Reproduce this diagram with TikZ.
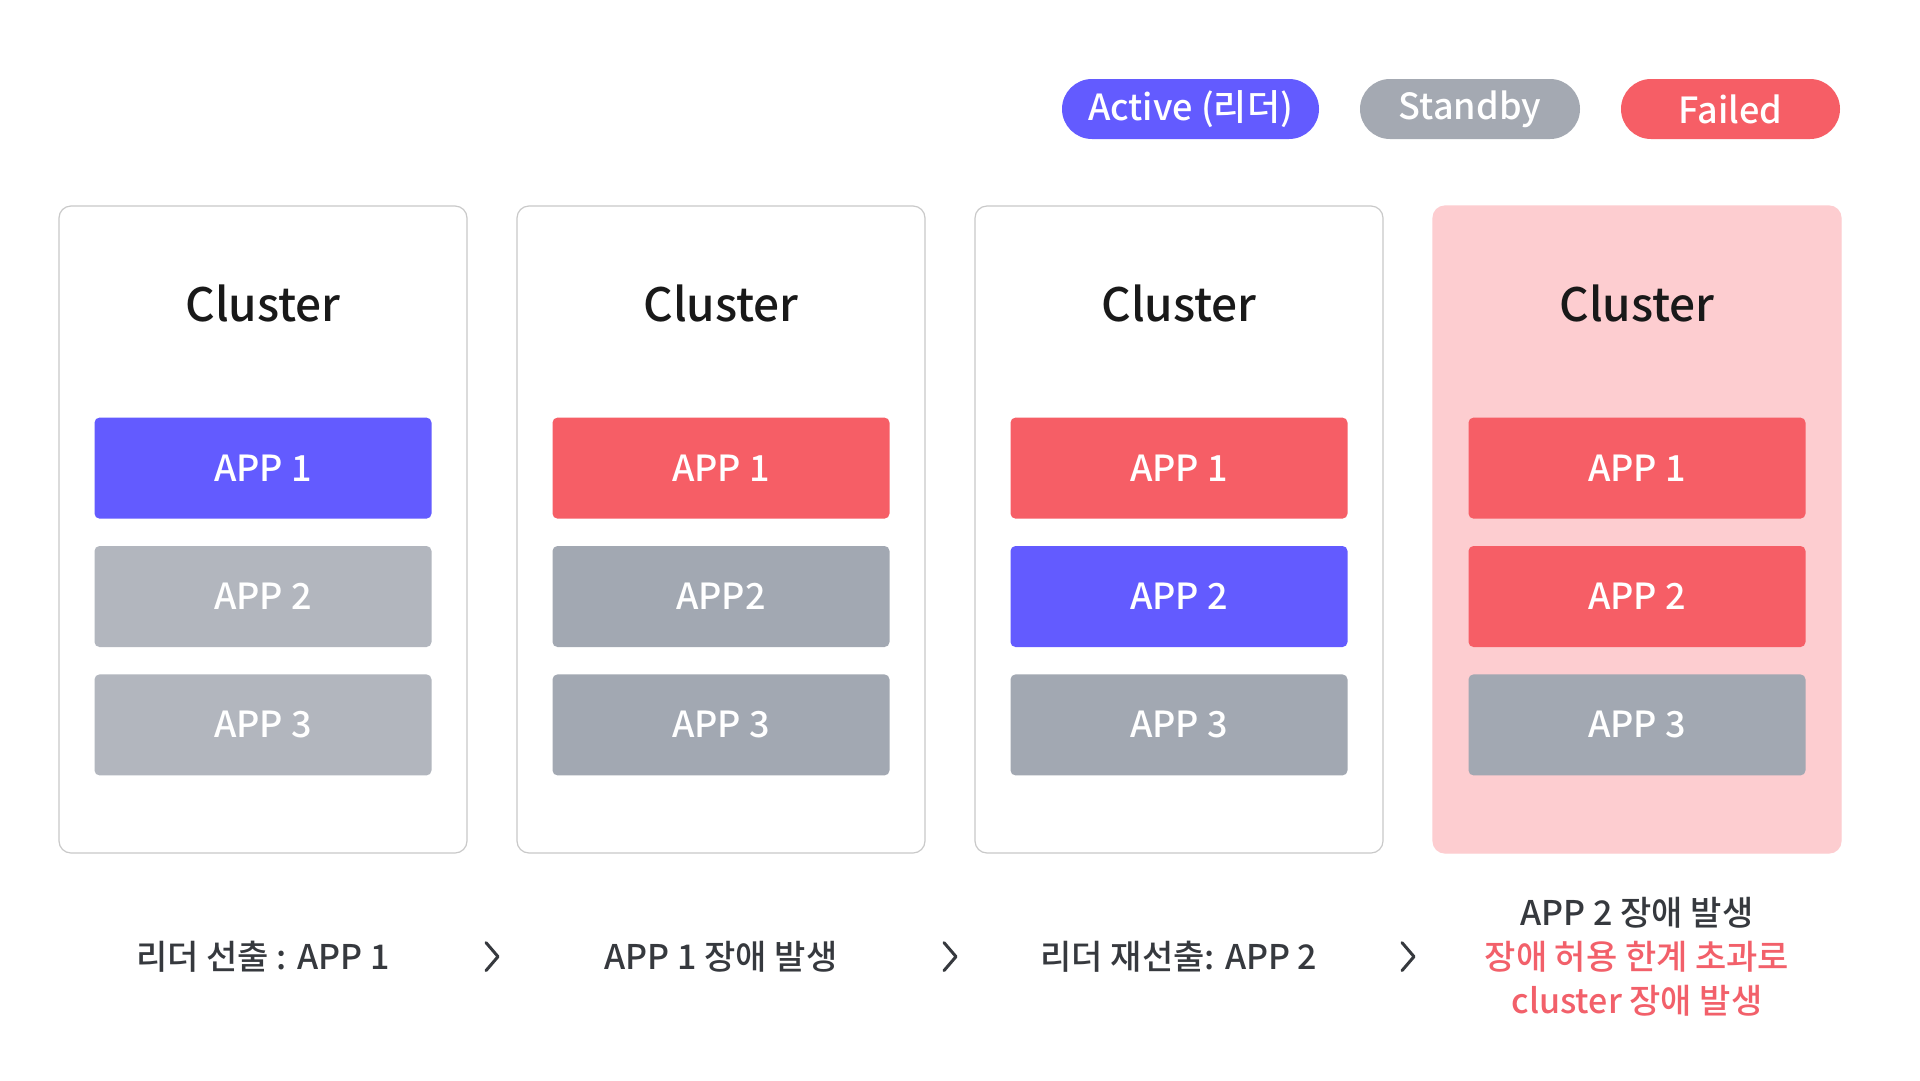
\documentclass[tikz,border=0pt]{standalone}
\usepackage{fontspec}
\setmainfont{Noto Sans CJK KR Medium}
\usetikzlibrary{positioning,calc}
\definecolor{activeblue}{HTML}{635BFF}
\definecolor{failred}{HTML}{F65E66}
\definecolor{standgray}{HTML}{A4A9B2}
\definecolor{lightgray}{HTML}{B2B6BE}
\definecolor{appgray}{HTML}{A2A8B2}
\definecolor{textdark}{HTML}{36393E}
\definecolor{failtext}{HTML}{F2606A}
\definecolor{boxline}{HTML}{C9C9C9}
\definecolor{failbg}{HTML}{FDCDD0}
\begin{document}
\begin{tikzpicture}[x=1pt,y=-1pt,
    clusterbox/.style={rectangle, rounded corners=12pt, draw=boxline, line width=1.2pt, fill=white, minimum width=408pt, minimum height=647pt},
    failbox/.style={clusterbox, draw=failbg, fill=failbg},
    ctitle/.style={font=\fontsize{46}{56}\selectfont, text=black!90},
    appbox/.style={rectangle, rounded corners=5pt, minimum width=337pt, minimum height=101pt, text=white, font=\fontsize{36}{44}\selectfont},
    pill/.style={rectangle, rounded corners=30pt, minimum height=60pt, text=white, font=\fontsize{36}{44}\selectfont},
    steplabel/.style={text=textdark, font=\fontsize{34}{44}\selectfont, align=center},
    chev/.style={draw=textdark, line width=3pt, line cap=round, line join=round},
]
\fill[white] (0,0) rectangle (1920,1080);
\useasboundingbox (0,0) rectangle (1920,1080);
\node[pill, fill=activeblue, minimum width=257pt] (leg1) at (1190.5,109) {Active (리더)};
\node[pill, fill=standgray, minimum width=220pt] (leg2) at (1470,109) {Standby};
\node[pill, fill=failred, minimum width=219pt] (leg3) at (1730.5,109) {Failed};
\node[clusterbox] (c1) at (263,529.5) {};
\node[clusterbox] (c2) at (721,529.5) {};
\node[clusterbox] (c3) at (1179,529.5) {};
\node[failbox] (c4) at (1637,529.5) {};
\node[ctitle, below=98pt of c1.north, anchor=center] (t1) {Cluster};
\node[ctitle, below=98pt of c2.north, anchor=center] (t2) {Cluster};
\node[ctitle, below=98pt of c3.north, anchor=center] (t3) {Cluster};
\node[ctitle, below=98pt of c4.north, anchor=center] (t4) {Cluster};
\node[appbox, fill=activeblue, below=212pt of c1.north] (a11) {APP 1};
\node[appbox, fill=lightgray, below=27pt of a11] (a12) {APP 2};
\node[appbox, fill=lightgray, below=27pt of a12] (a13) {APP 3};
\node[appbox, fill=failred, below=212pt of c2.north] (a21) {APP 1};
\node[appbox, fill=appgray, below=27pt of a21] (a22) {APP2};
\node[appbox, fill=appgray, below=27pt of a22] (a23) {APP 3};
\node[appbox, fill=failred, below=212pt of c3.north] (a31) {APP 1};
\node[appbox, fill=activeblue, below=27pt of a31] (a32) {APP 2};
\node[appbox, fill=appgray, below=27pt of a32] (a33) {APP 3};
\node[appbox, fill=failred, below=212pt of c4.north] (a41) {APP 1};
\node[appbox, fill=failred, below=27pt of a41] (a42) {APP 2};
\node[appbox, fill=appgray, below=27pt of a42] (a43) {APP 3};
\node[steplabel, below=103pt of c1.south, anchor=center] (l1) {리더 선출 : APP 1};
\node[steplabel, below=103pt of c2.south, anchor=center] (l2) {APP 1 장애 발생};
\node[steplabel, below=103pt of c3.south, anchor=center] (l3) {리더 재선출: APP 2};
\node[steplabel, below=103pt of c4.south, anchor=center] (l4) {APP 2 장애 발생\\\textcolor{failtext}{장애 허용 한계 초과로}\\\textcolor{failtext}{cluster 장애 발생}};
\coordinate (m1) at ($(c1.east)!0.5!(c2.west)$);
\coordinate (m2) at ($(c2.east)!0.5!(c3.west)$);
\coordinate (m3) at ($(c3.east)!0.5!(c4.west)$);
\coordinate (g1) at (m1 |- l1);
\coordinate (g2) at (m2 |- l2);
\coordinate (g3) at (m3 |- l3);
\draw[chev] ([shift={(-6,-14)}]g1) -- ([shift={(6,0)}]g1) -- ([shift={(-6,14)}]g1);
\draw[chev] ([shift={(-6,-14)}]g2) -- ([shift={(6,0)}]g2) -- ([shift={(-6,14)}]g2);
\draw[chev] ([shift={(-6,-14)}]g3) -- ([shift={(6,0)}]g3) -- ([shift={(-6,14)}]g3);
\end{tikzpicture}
\end{document}
